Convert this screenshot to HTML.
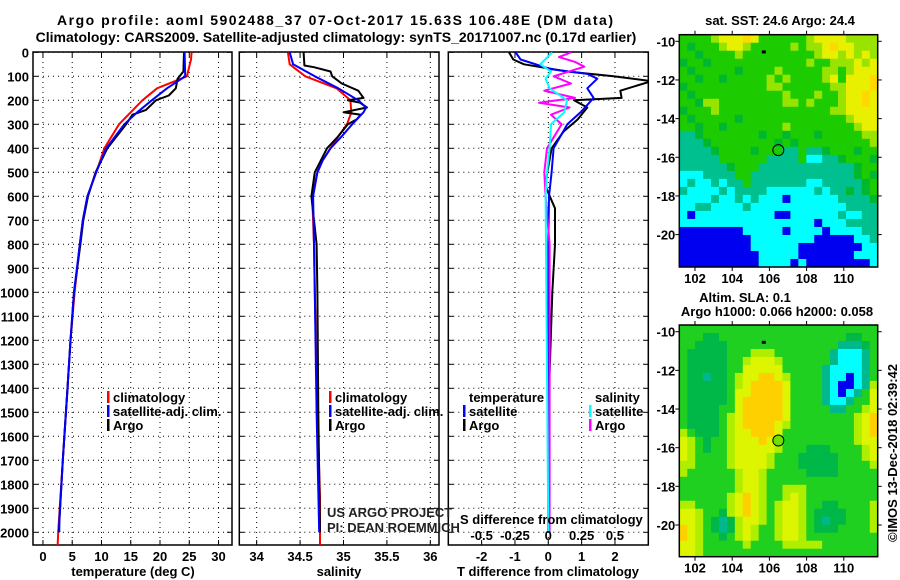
<!DOCTYPE html>
<html><head><meta charset="utf-8"><style>
html,body{margin:0;padding:0;background:#fff;}
svg{display:block;font-family:"Liberation Sans",sans-serif;}
.b{font-weight:bold;font-size:13px;}
</style></head><body>
<svg id="chart" width="900" height="580" viewBox="0 0 900 580" xmlns="http://www.w3.org/2000/svg">
<rect width="900" height="580" fill="#fff"/>
<text x="335" y="25" text-anchor="middle" class="b" style="font-size:14px" textLength="556" lengthAdjust="spacing">Argo profile: aoml 5902488_37 07-Oct-2017 15.63S 106.48E (DM data)</text>
<text x="336" y="42" text-anchor="middle" class="b" style="font-size:14px">Climatology: CARS2009. Satellite-adjusted climatology: synTS_20171007.nc (0.17d earlier)</text>
<g id="g"></g>
</svg>
<script>
// ---------- data ----------
const pressureTicks=[0,100,200,300,400,500,600,700,800,900,1000,1100,1200,1300,1400,1500,1600,1700,1800,1900,2000];
const tempTicks=[0,5,10,15,20,25,30];
const salTicks=[34,34.5,35,35.5,36];
const tdiffTicks=[-2,-1,0,1,2];
const sdiffTicks=[-0.5,-0.25,0,0.25,0.5];
const sdiffLabels=["-0.5","-0.25","0","0.25","0.5"];
const lonTicks=[102,104,106,108,110];
const latTicks=[-10,-12,-14,-16,-18,-20];

const tClimP=[0,30,100,150,200,250,300,400,500,600,700,800,1000,1200,1400,1700,2000,2060];
const tClim =[25.4,25.3,24.6,19.5,17,15,13,10.5,9.1,7.6,6.8,6.3,5.4,4.7,4.2,3.4,2.6,2.5];
const tSatP=[0,100,150,200,250,300,400,500,600,700,800,1000,1200,1400,1700,1950,2000];
const tSat =[24.2,24.3,21.2,18.6,16.1,13.9,10.8,9.1,7.6,6.8,6.3,5.3,4.7,4.2,3.4,2.8,2.8];
const tArgoP=[0,80,110,150,180,200,240,260,300,400,500,600,700,800,1000,1200,1400,1700,2000];
const tArgo =[24.1,24,23,22.7,21.5,19.3,17.6,15.3,14.2,11,9.0,7.7,6.9,6.4,5.3,4.7,4.2,3.4,2.7];

const sClimP=[0,50,100,150,200,250,300,350,400,450,500,600,700,800,1000,1500,1850,2060];
const sClim =[34.36,34.38,34.56,34.92,35.08,35.09,35.04,34.94,34.85,34.76,34.70,34.64,34.65,34.66,34.67,34.70,34.73,34.73];
const sSatP=[0,50,100,150,200,230,250,300,350,400,450,500,600,800,1000,1500,2000];
const sSat =[34.38,34.42,34.67,34.94,35.17,35.26,35.23,35.10,34.98,34.85,34.76,34.70,34.65,34.66,34.67,34.69,34.72];
const sArgoP=[0,55,62,80,100,130,160,190,200,210,230,250,260,280,300,350,400,500,600,800,1000,1500,2000];
const sArgo =[34.54,34.55,34.66,34.85,34.87,34.98,35.17,35.23,35.05,35.19,35.27,35.0,35.2,35.15,35.05,34.94,34.81,34.67,34.63,34.69,34.70,34.71,34.73];

const dtSatP=[0,30,70,90,110,150,190,250,300,400,500,600,800,2000];
const dtSat =[-0.98,-0.83,0.07,1.17,1.47,1.17,1.36,0.97,0.57,0.16,0.1,0.02,0,0];
const dtArgoP=[0,30,50,80,100,120,160,190,200,230,280,330,400,500,560,650,800,1000,1500,2000];
const dtArgo =[-1.18,-1.05,-0.73,0.57,1.96,3.1,2.16,2.2,0.77,1.17,0.88,0.46,0.1,-0.03,-0.08,0.2,0.2,0.12,0.0,0.0];
const dsSatP=[0,50,80,110,150,200,250,300,400,500,600,2000];
const dsSat =[0.03,-0.06,0.02,-0.02,0.01,0.14,0.12,0.02,0.01,-0.01,-0.02,0];
const dsArgoP=[0,20,40,60,100,130,160,190,210,230,260,300,400,500,600,800,2000];
const dsArgo =[0.17,0.08,0.2,0.27,0.04,0.17,-0.03,0.2,-0.07,0.16,0.02,0.1,-0.01,-0.03,-0.02,0.01,0.01];

const sstGrid=[
"GGGGLYYYOYGGGGGGLYYYYLLLL","GDGGGLYYLGGGGGLGLLYOYYLLL","GGDGGGGLGGGGGGGGGLYYLYLYL","DGGDGGGGGGGGGGGGLGGLLLYLY",
"GDGGGGGDGGGGLGGGGGLLGLYYY","GGDGGDGGGGGLGLGGGGLYGYYYO","DGGGGGGGGGGLLGGGGGGLLYYYO","GDGGGGGGGGGGGLGGGLGGLYYOY",
"GGDLLGGGGGGGGLLGLGGGLYYOY","DGGGLGGGGGGGGGGGGGGLLYYYY","GDGGGGGDGGGGGGGGGGGGGLYYY","GGDGGDGGGGGGGLGGGGGGGGLYY",
"TTDGGGGGGGDGGDGGGDGGGGGLL","TTTDGGGGGGGGDGDGGGGGGGGGL","TTTTDGGGGDGGGTTGTTDGGGDGG","TTTTTGGGGGGTTTTGCCTTDGGGD",
"TTTTTTDGGGTTTTTTTTTTTTDGG","CCCTTTTGGTTTTTTTTTTTTTDGD","CTCCTCTTGTTTTTTTCCTTTTTDG","TCCCCTCTTTTCCCCCCTCTTDTDG",
"CCCCTCCTCTCCCBCCCCCCTTTTD","CCTTCCCCTCCCCCCCCCCCCTTTT","CBCCCCCCCCCCBBCCCCCCTCCTT","CCCCCCCCCCCCCCCCCBCCCTTTT",
"BBBBBBBBCCCCCBCCCCBCCCCTT","BBBBBBBBBCCCCCCCCBBBBBCCT","BBBBBBBBBCCCCCCBBBBBBBBCC","BBBBBBBBBBCCCCCBBBBBBBCCC",
"BBBBBBBBBBCCCCBCBBBBBBBBC"];
const slaGrid=[
"GGGGGGGGGGGGGGGGGGGGGGGGG","GGGDDGGGGGGGGGGGGGGGGDDGG","GGDDDDGGGGGGGGGGGGGGTTTDG","GDDDDDGGGLLLGGGGGGGTCCCTG",
"GDDDDDGGLYYYLGGGGGGTCCCTG","GDDDDDGGYYYYYGGGGGTCCCCTG","GDDTDDGLYYOOYLGGGGTCCBCTG","GDDDDDGLYOOOOYGGGGTCBBCTL",
"GDDDDDGYYOOOOYGGGGTCBCTGY","GDDDDDGYOOOOOYGGGGTCCTGGY","GDDDDGGYOOOOOYGGGGGTTGGLY","GDDDDGLYOOOOOYGGGGGGGGLYO",
"GDDDDGLYOOOOYLGGGGGGGGLYO","LGDDDGLYYOOOYGGGGGGGGGLYO","YLGDGGLYYYOYLGGGGGGGGGLYY","YLGDGGLYYYYYLGGGDDDGGGGLY",
"YLGGGGLYYYYLGGGDDDDDGGGLY","LLGGGGLYYYYLGGGDDDDDGGGGL","LGGGGGGLYYLGGGGGDDDDGGGGG","GGGGGGGLYYLGGGGGGGGGGGGGG",
"GGGGGGGLYYLGGLLLGGGGGGGGG","GGGGGGLYOYLGGLYLGGGGGGGGG","LLGGGGLYOYLGLYYLGGDDGGGGL","YYLGGDLYOYLGLYYLGDDDDGGGL",
"YYLGDTDLYYLGLYYLGDTDDGGGL","OYLGDTDLYLGGLYYLGDDDGGGGL","OYLGGDGLYLGGLYYLGGGGGGGGG","YYLGGGGGLGGGGLLLLLGGGGGGG",
"YYLGGGGGGGGGGGGGGGGGGGGGG"];
// ---------- helpers ----------
const NS="http://www.w3.org/2000/svg";
const G=document.getElementById('g');
function mk(tag,attrs,parent){const e=document.createElementNS(NS,tag);for(const k in attrs)e.setAttribute(k,attrs[k]);(parent||G).appendChild(e);return e;}
function txt(x,y,s,anchor,cls,parent){const t=mk('text',{x:x,y:y,'text-anchor':anchor||'middle','class':cls||'b'},parent);t.textContent=s;return t;}
const Y0=52.3,YS=0.24,PTOP=52,PBOT=545;
const yP=p=>Y0+p*YS;
const panels=[
 {name:'temperature',x0:33,x1:232,d0:-1.7,d1:32.3},
 {name:'salinity',x0:239.3,x1:439,d0:33.8,d1:36.1},
 {name:'difference',x0:448.3,x1:648.3,d0:-3,d1:3}
];
function sx(pn,v){return pn.x0+(v-pn.d0)/(pn.d1-pn.d0)*(pn.x1-pn.x0);}
const clips=mk('defs',{});
panels.forEach((pn,i)=>{const c=mk('clipPath',{id:'clip'+i},clips);mk('rect',{x:pn.x0,y:PTOP,width:pn.x1-pn.x0,height:PBOT-PTOP},c);});

panels.forEach((pn,i)=>{
  const g=mk('g',{});
  
  
  pressureTicks.forEach(p=>{
    const l=mk('line',{x1:pn.x0,x2:pn.x1,y1:yP(p),y2:yP(p),stroke:'#000','stroke-width':1,'stroke-dasharray':'1,4'},g);
    
    mk('line',{x1:pn.x0,x2:pn.x0+5,y1:yP(p),y2:yP(p),stroke:'#000'},g);
    mk('line',{x1:pn.x1-5,x2:pn.x1,y1:yP(p),y2:yP(p),stroke:'#000'},g);
  });
  const xt=i==0?tempTicks:i==1?salTicks:tdiffTicks;
  xt.forEach(v=>{
    const x=sx(pn,v);
    const l=mk('line',{x1:x,x2:x,y1:PTOP,y2:PBOT,stroke:'#000','stroke-width':1,'stroke-dasharray':'1,4'},g);
    
    mk('line',{x1:x,x2:x,y1:PBOT-5,y2:PBOT,stroke:'#000'},g);
    mk('line',{x1:x,x2:x,y1:PTOP,y2:PTOP+5,stroke:'#000'},g);
    const t=txt(x,561,String(v),'middle','b',g);
    
  });
  const fr=mk('rect',{x:pn.x0,y:PTOP,width:pn.x1-pn.x0,height:PBOT-PTOP,fill:'none',stroke:'#000','stroke-width':1.5},g);
  
});
pressureTicks.forEach(p=>{const t=txt(29,yP(p)+5,String(p),'end');
  });

function line(pi,P,V,color,name,scale){
  const pn=panels[pi];
  const pts=P.map((p,k)=>sx(pn,V[k]*(scale||1)).toFixed(1)+','+yP(p).toFixed(1)).join(' ');
  const l=mk('polyline',{points:pts,fill:'none',stroke:color,'stroke-width':2,'stroke-linejoin':'round','clip-path':'url(#clip'+pi+')'});
  
  
}
line(0,tClimP,tClim,'#f00','temp-climatology-line');
line(0,tArgoP,tArgo,'#000','temp-argo-line');
line(0,tSatP,tSat,'#00f','temp-satellite-line');
line(1,sClimP,sClim,'#f00','sal-climatology-line');
line(1,sArgoP,sArgo,'#000','sal-argo-line');
line(1,sSatP,sSat,'#00f','sal-satellite-line');
line(2,dtArgoP,dtArgo,'#000','tdiff-argo-line');
line(2,dtSatP,dtSat,'#00f','tdiff-satellite-line');
line(2,dsArgoP,dsArgo,'#f0f','sdiff-argo-line',4);
line(2,dsSatP,dsSat,'#0ff','sdiff-satellite-line',4);

sdiffTicks.forEach((v,k)=>{const t=txt(sx(panels[2],v*4),540,sdiffLabels[k]);
  });
[['temperature (deg C)',133,'x-axis-title-temperature'],['salinity',339,'x-axis-title-salinity'],['T difference from climatology',548,'x-axis-title-tdiff']].forEach(a=>{
  const t=txt(a[1],576,a[0]);});
{const t=txt(460,524,'S difference from climatology','start');}
{const t=txt(327,517,'US ARGO PROJECT','start','');t.setAttribute('font-size','13');t.setAttribute('fill','#222');}
{const t=txt(327,532,'PI: DEAN ROEMMICH','start','');t.setAttribute('font-size','13');t.setAttribute('fill','#222');}

function leg(x,y,color,label){
  const g=mk('g',{});
  
  
  if(color) mk('rect',{x:x-6,y:y-11,width:2.5,height:12,fill:color},g);
  txt(x,y,label,'start','b',g);
}
leg(113,402,'#f00','climatology');leg(113,416,'#00f','satellite-adj. clim.');leg(113,430,'#000','Argo');
leg(335,402,'#f00','climatology');leg(335,416,'#00f','satellite-adj. clim.');leg(335,430,'#000','Argo');
leg(469,402,null,'temperature');leg(469,416,'#00f','satellite');leg(469,430,'#000','Argo');
leg(595,402,null,'salinity');leg(595,416,'#0ff','satellite');leg(595,430,'#f0f','Argo');

const sstColors={Y:'#e8f000',O:'#ffd800',L:'#98e400',G:'#1ccc00',D:'#00b830',T:'#00c090',C:'#00ffff',B:'#0000f0'};
const slaColors={Y:'#ddf500',O:'#ffd000',L:'#b0ee00',G:'#20d020',D:'#00b848',T:'#00b890',C:'#00ffff',B:'#0000ee'};
function drawMap(name,grid,colors,x0,y0,x1,y1,lat0,latS){
  const g=mk('g',{});
  
  
  const rows=grid.length,cols=grid[0].length,cw=(x1-x0)/cols,ch=(y1-y0)/rows;
  grid.forEach((r,ri)=>{for(let ci=0;ci<cols;ci++){
    mk('rect',{x:(x0+ci*cw).toFixed(2),y:(y0+ri*ch).toFixed(2),width:(cw+0.4).toFixed(2),height:(ch+0.4).toFixed(2),fill:colors[r[ci]]},g);}});
  mk('rect',{x:x0,y:y0,width:x1-x0,height:y1-y0,fill:'none',stroke:'#000','stroke-width':1.5},g);
  const lonX=l=>695+(l-102)*18.6;
  lonTicks.forEach(l=>{const x=lonX(l);mk('line',{x1:x,x2:x,y1:y0-4,y2:y0,stroke:'#000'},g);mk('line',{x1:x,x2:x,y1:y1,y2:y1+4,stroke:'#000'},g);
    const t=txt(x,y1+16,String(l),'middle','b',g);});
  latTicks.forEach(l=>{const y=lat0+(-10-l)*latS;mk('line',{x1:x0-4,x2:x0,y1:y,y2:y,stroke:'#000'},g);mk('line',{x1:x1,x2:x1+4,y1:y,y2:y,stroke:'#000'},g);
    const t=txt(x0-4,y+5,String(l),'end','b',g);});
  const lx=lonX(106.48),ly=lat0+(15.63-10)*latS;
  const c=mk('circle',{cx:lx,cy:ly,r:5.5,fill:name=='sla-map'?'#70e000':'none',stroke:'#000','stroke-width':1},g);
  
  mk('rect',{x:lonX(105.7)-2,y:lat0+0.55*latS-1.5,width:4,height:3,fill:'#000'},g);
}
drawMap('sst-map',sstGrid,sstColors,679.3,34.7,877.7,267,41.3,19.33);
drawMap('sla-map',slaGrid,slaColors,679.3,325,877.7,556.7,331.7,19.33);
{const t=txt(780,25,'sat. SST: 24.6 Argo: 24.4');}
{const t=txt(745,302,'Altim. SLA: 0.1');}
{const t=txt(777,316,'Argo h1000: 0.066 h2000: 0.058');}
{const t=txt(0,0,'©IMOS 13-Dec-2018 02:39:42','middle','');t.setAttribute('font-size','13');t.setAttribute('transform','translate(897,453) rotate(-90)');
 }
</script>
</body></html>
